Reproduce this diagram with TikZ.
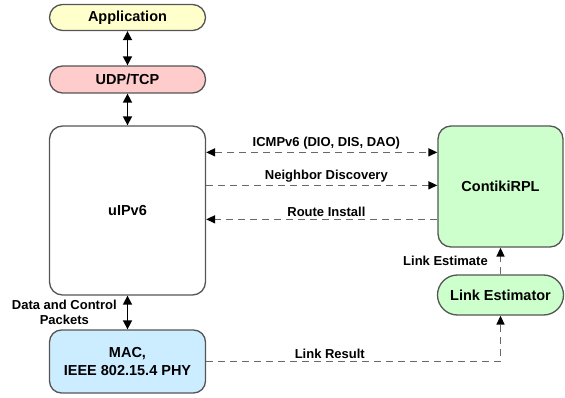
\documentclass[tikz,border=0pt]{standalone}
\usepackage{fontspec}
\setmainfont{Liberation Sans}
\usepackage{tikz}
\usetikzlibrary{arrows.meta, positioning, calc}
\definecolor{appyellow}{RGB}{255,255,204}
\definecolor{udppink}{RGB}{255,204,204}
\definecolor{macblue}{RGB}{204,236,255}
\definecolor{rplgreen}{RGB}{204,255,204}
\definecolor{boxgray}{RGB}{85,85,85}
\definecolor{dashgray}{RGB}{105,105,105}
\tikzset{
  layer/.style={draw=boxgray, line width=1.3pt, inner sep=0pt, align=center,
    font=\bfseries\fontsize{14.5}{17.5}\selectfont},
  pillbox/.style={layer, minimum width=156pt, minimum height=26pt, rounded corners=13pt},
  blockbox/.style={layer, minimum width=156pt, rounded corners=13pt},
  solidlink/.style={line width=1.6pt, {Triangle[length=9pt,width=9pt]}-{Triangle[length=9pt,width=9pt]}},
  dashlink/.style={draw=dashgray, line width=1.5pt, dash pattern=on 7pt off 5pt,
    -{Triangle[length=9pt,width=8pt,color=black]}},
  lbl/.style={font=\bfseries\fontsize{13}{15.5}\selectfont, inner sep=2pt, text=black}
}

\begin{document}
\begin{tikzpicture}[x=1pt, y=-1pt]
  \useasboundingbox (0,0) rectangle (565,398);

  % protocol stack
  \node[pillbox, fill=appyellow] (app) at (127.5,17.5) {Application};
  \node[pillbox, fill=udppink, minimum height=27pt] (udp) at (127.5,79.5) {UDP/TCP};
  \node[blockbox, fill=white, minimum height=169pt] (uip) at (127.5,210.5) {uIPv6};
  \node[blockbox, fill=macblue, minimum height=63pt, rounded corners=12pt] (mac) at (127.5,361.5)
    {MAC,\\IEEE 802.15.4 PHY};

  % routing side
  \node[layer, fill=rplgreen, minimum width=125pt, minimum height=121pt, rounded corners=13pt]
    (rpl) at (500.5,186.5) {ContikiRPL};
  \node[layer, fill=rplgreen, minimum width=126pt, minimum height=40pt, rounded corners=20pt]
    (est) at (500.5,295) {Link Estimator};

  \draw[solidlink] (app) -- (udp);
  \draw[solidlink] (udp) -- (uip);
  \draw[solidlink] (uip) -- node[lbl, left=8pt, align=center] {Data and Control\\Packets} (mac);

  \draw[dashlink, {Triangle[length=9pt,width=8pt,color=black]}-{Triangle[length=9pt,width=8pt,color=black]}]
    ([yshift=-27pt]uip.north east) -- node[lbl, above, pos=0.52] {ICMPv6 (DIO, DIS, DAO)}
    ([yshift=-27pt]rpl.north west);
  \draw[dashlink] ([yshift=-60pt]uip.north east) -- node[lbl, above, pos=0.52] {Neighbor Discovery}
    ([yshift=-60pt]rpl.north west);
  \draw[dashlink] ([yshift=-94pt]rpl.north west) -- node[lbl, above, pos=0.48] {Route Install}
    ([yshift=-94pt]uip.north east);

  \draw[dashlink] (mac.east) -| node[lbl, above, pos=0.21] {Link Result} (est.south);
  \draw[dashlink] (est) -- node[lbl, left=10pt] {Link Estimate} (rpl);
\end{tikzpicture}
\end{document}
